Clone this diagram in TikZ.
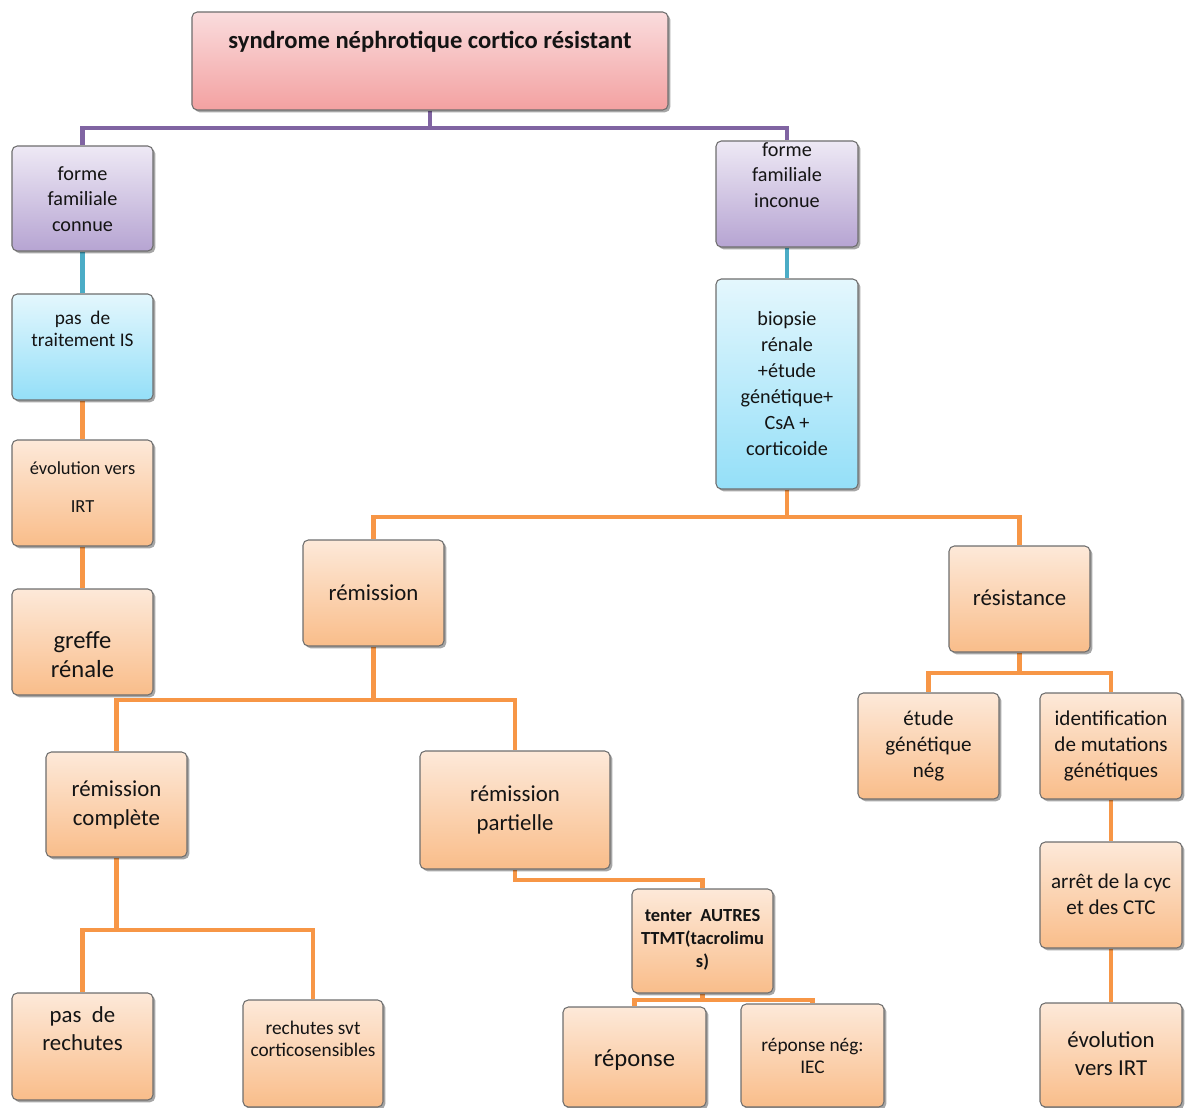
\documentclass[tikz,border=0pt]{standalone}
\usepackage{fontspec}
\setmainfont{Carlito}
\usetikzlibrary{shadows}
\pgfdeclarelayer{bg}
\pgfsetlayers{bg,main}
\definecolor{oTop}{HTML}{FDE9D9}
\definecolor{oBot}{HTML}{F9BD8A}
\definecolor{pTop}{HTML}{EEE9F5}
\definecolor{pBot}{HTML}{B6A4D2}
\definecolor{cTop}{HTML}{E4F7FD}
\definecolor{cBot}{HTML}{94DFF8}
\definecolor{rTop}{HTML}{FADCDD}
\definecolor{rBot}{HTML}{F3A1A1}
\definecolor{lnO}{HTML}{F79646}
\definecolor{lnP}{HTML}{8064A2}
\definecolor{lnC}{HTML}{4BACC6}
\definecolor{edge}{HTML}{6E6E6E}
\tikzset{
  basebox/.style={draw=edge, line width=0.6pt, rounded corners=3pt, inner sep=0pt,
    drop shadow={shadow xshift=1.3pt, shadow yshift=-1.3pt, fill=black, opacity=0.35}},
  obox/.style={basebox, top color=oTop, bottom color=oBot},
  pbox/.style={basebox, top color=pTop, bottom color=pBot},
  cbox/.style={basebox, top color=cTop, bottom color=cBot},
  rbox/.style={basebox, top color=rTop, bottom color=rBot},
  txt/.style={align=center, inner sep=0pt, text=black!92},
  lo/.style={draw=lnO, line width=2.8pt},
  lp/.style={draw=lnP, line width=2.8pt},
  lc/.style={draw=lnC, line width=2.8pt},
}
\newcommand\fsz[2]{\fontsize{#1}{#2}\selectfont}
% \bx{name}{x1}{y1}{x2}{y2}{style}{text y}{font}{text}
\newcommand\bx[9]{%
  \pgfmathsetmacro\bxcx{(#2+#4)/2}%
  \pgfmathsetmacro\bxcy{(#3+#5)/2}%
  \pgfmathsetmacro\bxw{(#4-#2)*0.02}%
  \pgfmathsetmacro\bxh{(#5-#3)*0.02}%
  \node[#6, minimum width=\bxw cm, minimum height=\bxh cm] (#1) at (\bxcx,\bxcy) {};
  \node[txt, font=#8] (#1t) at (\bxcx,#7) {#9};
}
\begin{document}
\begin{tikzpicture}[x=0.02cm, y=-0.02cm]
\useasboundingbox (0,0) rectangle (1187,1108);

\bx{title}{192}{12}{668}{110}{rbox}{42}{\fsz{14}{16}\bfseries}{syndrome néphrotique cortico résistant}
\bx{ffc}{12}{146}{153}{251}{pbox}{199}{\fsz{11.5}{14.5}}{forme\\familiale\\connue}
\bx{ffi}{716}{141}{858}{247}{pbox}{175}{\fsz{11.5}{14.5}}{forme\\familiale\\inconue}
\bx{ptis}{12}{294}{153}{400}{cbox}{329}{\fsz{11}{12.5}}{pas\ \ de\\traitement IS}
\bx{evo}{12}{440}{153}{546}{obox}{487}{\fsz{10.5}{21.5}}{évolution vers\\IRT}
\bx{gref}{12}{589}{153}{695}{obox}{655}{\fsz{14}{16.5}}{greffe\\rénale}
\bx{bio}{716}{279}{858}{489}{cbox}{383.5}{\fsz{11.5}{14.7}}{biopsie\\rénale\\+étude\\génétique+\\CsA +\\corticoide}
\bx{rem}{303}{540}{444}{646}{obox}{593}{\fsz{13}{16}}{rémission}
\bx{res}{949}{546}{1090}{652}{obox}{598}{\fsz{13}{16}}{résistance}
\bx{rc}{46}{752}{187}{857}{obox}{805}{\fsz{13}{16.5}}{rémission\\complète}
\bx{rp}{420}{751}{610}{869}{obox}{810}{\fsz{13}{16.5}}{rémission\\partielle}
\bx{tent}{632}{889}{773}{993}{obox}{940}{\fsz{10.5}{13}\bfseries}{tenter\ \ AUTRES\\TTMT(tacrolimu\\s)}
\bx{rep}{563}{1007}{706}{1107}{obox}{1060}{\fsz{14}{16.5}}{réponse}
\bx{repn}{741}{1004}{884}{1107}{obox}{1056}{\fsz{11}{13}}{réponse nég:\\IEC}
\bx{pdr}{12}{993}{153}{1100}{obox}{1029}{\fsz{13}{16}}{pas\ \ de\\rechutes}
\bx{rsvt}{243}{1000}{383}{1107}{obox}{1039}{\fsz{11}{12.5}}{rechutes svt\\corticosensibles}
\bx{etu}{858}{693}{999}{799}{obox}{746}{\fsz{12}{14.7}}{étude\\génétique\\nég}
\bx{idf}{1040}{693}{1182}{799}{obox}{746}{\fsz{12}{14.7}}{identification\\de mutations\\génétiques}
\bx{arr}{1040}{842}{1182}{948}{obox}{894}{\fsz{12}{14.7}}{arrêt de la cyc\\et des CTC}
\bx{evr}{1040}{1003}{1182}{1107}{obox}{1054}{\fsz{13}{16}}{évolution\\vers IRT}

\coordinate (jTitle) at (0,128);
\coordinate (jBio) at (0,517);
\coordinate (jRem) at (0,700);
\coordinate (jRp) at (0,880);
\coordinate (jTent) at (0,1000);
\coordinate (jRc) at (0,930);
\coordinate (jRes) at (0,673);

\begin{pgfonlayer}{bg}
\draw[lp] (title.south) -- (title.south |- jTitle) -| (ffc.north);
\draw[lp] (title.south) -- (title.south |- jTitle) -| (ffi.north);
\draw[lc] (ffc.south) -- (ptis.north);
\draw[lc] (ffi.south) -- (bio.north);
\draw[lo] (ptis.south) -- (evo.north);
\draw[lo] (evo.south) -- (gref.north);
\draw[lo] (bio.south) -- (bio.south |- jBio) -| (rem.north);
\draw[lo] (bio.south) -- (bio.south |- jBio) -| (res.north);
\draw[lo] (rem.south) -- (rem.south |- jRem) -| (rc.north);
\draw[lo] (rem.south) -- (rem.south |- jRem) -| (rp.north);
\draw[lo] (rp.south) -- (rp.south |- jRp) -| (tent.north);
\draw[lo] (tent.south) -- (tent.south |- jTent) -| (rep.north);
\draw[lo] (tent.south) -- (tent.south |- jTent) -| (repn.north);
\draw[lo] (rc.south) -- (rc.south |- jRc) -| (pdr.north);
\draw[lo] (rc.south) -- (rc.south |- jRc) -| (rsvt.north);
\draw[lo] (res.south) -- (res.south |- jRes) -| (etu.north);
\draw[lo] (res.south) -- (res.south |- jRes) -| (idf.north);
\draw[lo] (idf.south) -- (arr.north);
\draw[lo] (arr.south) -- (evr.north);
\end{pgfonlayer}
\end{tikzpicture}
\end{document}
